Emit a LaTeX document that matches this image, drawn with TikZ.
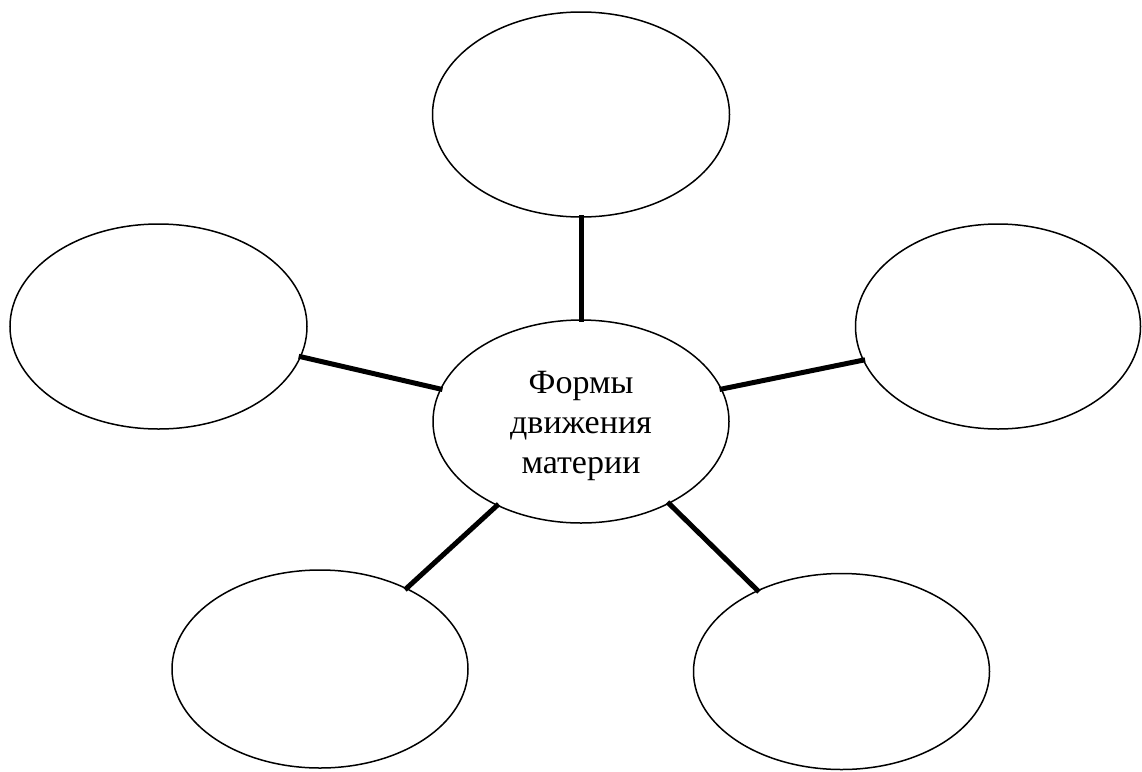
\documentclass[tikz,border=0pt]{standalone}
\usepackage{fontspec}
\setmainfont{Liberation Serif}
\usetikzlibrary{shapes.geometric}
\begin{document}
\begin{tikzpicture}[x=1pt,y=-1pt,
  bubble/.style={draw,ellipse,line width=1.5pt,inner sep=0pt},
  link/.style={line width=5pt,line cap=rect}]
\useasboundingbox (0,0) rectangle (1142,771);
\node[bubble,minimum width=297pt,minimum height=205pt] (T) at (581,114.5) {};
\node[bubble,minimum width=297pt,minimum height=205pt] (L) at (158.5,326.5) {};
\node[bubble,minimum width=285pt,minimum height=205pt] (R) at (998,326.5) {};
\node[bubble,minimum width=296pt,minimum height=203pt] (C) at (581,421.5) {};
\node[align=center,inner sep=0pt,font=\fontsize{34pt}{40pt}\selectfont] (Ct) at (581,426) {Формы\\движения\\материи};
\node[bubble,minimum width=296pt,minimum height=198pt] (BL) at (320,669) {};
\node[bubble,minimum width=296pt,minimum height=196pt] (BR) at (841.5,671.5) {};
\draw[link] (T.south) -- (C.north);
\draw[link] (L.-12.3) -- (C.167.2);
\draw[link] (R.-166.7) -- (C.13);
\draw[link] (BL.43.6) -- (C.-135.8);
\draw[link] (BR.136) -- (C.-43.5);
\end{tikzpicture}
\end{document}
